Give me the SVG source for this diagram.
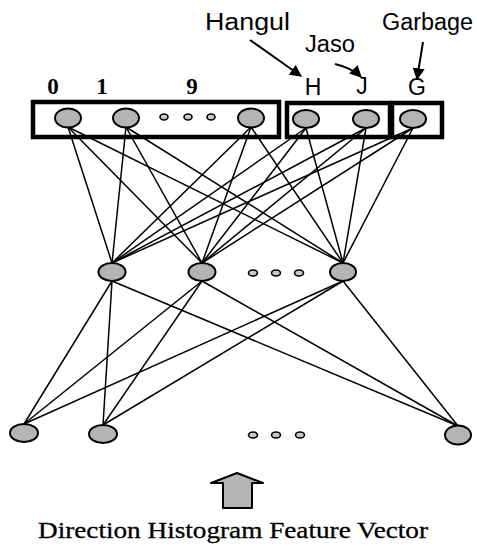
<svg xmlns="http://www.w3.org/2000/svg" width="477" height="546" viewBox="0 0 477 546">
<defs>
<style>
.ln{stroke:#000;stroke-width:1.5;fill:none}
.nd{fill:#b4b4b4;stroke:#000;stroke-width:2}
.dot{fill:#c8c8c8;stroke:#000;stroke-width:1.6}
.box{fill:none;stroke:#000;stroke-width:4.5}
.lab{font-family:"Liberation Sans",Arial,sans-serif;font-size:23px;fill:#000}
.dig{font-family:"Liberation Serif","Times New Roman",serif;font-size:23px;font-weight:bold;fill:#000;text-anchor:middle}
.cap{font-family:"Liberation Serif","Times New Roman",serif;font-size:24px;fill:#000;stroke:#000;stroke-width:0.3}
.ar{stroke:#000;stroke-width:2;fill:none}
</style>
<marker id="ah" viewBox="0 0 10 10" refX="9" refY="5" markerWidth="6" markerHeight="6" orient="auto" markerUnits="strokeWidth">
<path d="M0,0 L10,5 L0,10 z" fill="#000"/>
</marker>
</defs>
<rect width="477" height="546" fill="#fff"/>
<g id="connectors">
<line class="ln" x1="68" y1="127" x2="112" y2="263"/>
<line class="ln" x1="68" y1="127" x2="202" y2="263"/>
<line class="ln" x1="68" y1="127" x2="343" y2="263"/>
<line class="ln" x1="126" y1="127" x2="112" y2="263"/>
<line class="ln" x1="126" y1="127" x2="202" y2="263"/>
<line class="ln" x1="126" y1="127" x2="343" y2="263"/>
<line class="ln" x1="251" y1="127" x2="112" y2="263"/>
<line class="ln" x1="251" y1="127" x2="202" y2="263"/>
<line class="ln" x1="251" y1="127" x2="343" y2="263"/>
<line class="ln" x1="306" y1="128" x2="112" y2="263"/>
<line class="ln" x1="306" y1="128" x2="202" y2="263"/>
<line class="ln" x1="306" y1="128" x2="343" y2="263"/>
<line class="ln" x1="366" y1="128" x2="112" y2="263"/>
<line class="ln" x1="366" y1="128" x2="202" y2="263"/>
<line class="ln" x1="366" y1="128" x2="343" y2="263"/>
<line class="ln" x1="413" y1="128" x2="112" y2="263"/>
<line class="ln" x1="413" y1="128" x2="202" y2="263"/>
<line class="ln" x1="413" y1="128" x2="343" y2="263"/>
<line class="ln" x1="112" y1="281" x2="24" y2="424"/>
<line class="ln" x1="112" y1="281" x2="103" y2="425"/>
<line class="ln" x1="112" y1="281" x2="458" y2="426"/>
<line class="ln" x1="202" y1="281" x2="24" y2="424"/>
<line class="ln" x1="202" y1="281" x2="103" y2="425"/>
<line class="ln" x1="202" y1="281" x2="458" y2="426"/>
<line class="ln" x1="343" y1="281" x2="24" y2="424"/>
<line class="ln" x1="343" y1="281" x2="103" y2="425"/>
<line class="ln" x1="343" y1="281" x2="458" y2="426"/>
<line class="ar" x1="250" y1="40" x2="301" y2="76" marker-end="url(#ah)"/>
<path class="ar" d="M335,64 Q352,68 361,77" marker-end="url(#ah)"/>
<line class="ar" x1="423" y1="42" x2="417" y2="79" marker-end="url(#ah)"/>
</g>
<g id="group-digits"><rect class="box" x="33" y="102" width="246" height="35"/></g>
<g id="group-hangul"><rect class="box" x="287" y="103" width="103" height="34"/></g>
<g id="group-garbage"><rect class="box" x="392" y="103" width="50" height="34"/></g>
<g id="out-0"><ellipse class="nd" cx="68" cy="118" rx="13" ry="9.5"/><text class="dig" x="53" y="94">0</text></g>
<g id="out-1"><ellipse class="nd" cx="126" cy="118" rx="13" ry="9.5"/><text class="dig" x="102" y="94">1</text></g>
<g id="out-dots"><ellipse class="dot" cx="164" cy="117" rx="4" ry="3"/><ellipse class="dot" cx="188" cy="117" rx="4" ry="3"/><ellipse class="dot" cx="211" cy="117" rx="4" ry="3"/></g>
<g id="out-9"><ellipse class="nd" cx="251" cy="118" rx="13" ry="9.5"/><text class="dig" x="192" y="94">9</text></g>
<g id="out-H"><ellipse class="nd" cx="306" cy="119" rx="13" ry="9"/><text class="lab" x="313" y="95" text-anchor="middle">H</text></g>
<g id="out-J"><ellipse class="nd" cx="366" cy="119" rx="13" ry="9"/><text class="lab" x="362" y="94" text-anchor="middle">J</text></g>
<g id="out-G"><ellipse class="nd" cx="413" cy="119" rx="13" ry="9"/><text class="lab" x="417" y="95" text-anchor="middle">G</text></g>
<g id="label-hangul"><text class="lab" x="205" y="30" textLength="85" lengthAdjust="spacingAndGlyphs">Hangul</text></g>
<g id="label-jaso"><text class="lab" x="305" y="52" textLength="50" lengthAdjust="spacingAndGlyphs">Jaso</text></g>
<g id="label-garbage"><text class="lab" x="382" y="30" textLength="91" lengthAdjust="spacingAndGlyphs">Garbage</text></g>
<g id="hid-1"><ellipse class="nd" cx="112" cy="272" rx="13.5" ry="9"/></g>
<g id="hid-2"><ellipse class="nd" cx="202" cy="272" rx="13.5" ry="9"/></g>
<g id="hid-dots"><ellipse class="dot" cx="253" cy="273" rx="4.5" ry="3"/><ellipse class="dot" cx="276" cy="273" rx="4.5" ry="3"/><ellipse class="dot" cx="299" cy="273" rx="4.5" ry="3"/></g>
<g id="hid-3"><ellipse class="nd" cx="343" cy="272" rx="13" ry="9"/></g>
<g id="in-1"><ellipse class="nd" cx="24" cy="433" rx="14" ry="9"/></g>
<g id="in-2"><ellipse class="nd" cx="103" cy="434" rx="14" ry="9"/></g>
<g id="in-dots"><ellipse class="dot" cx="253" cy="435" rx="4.5" ry="3"/><ellipse class="dot" cx="276" cy="435" rx="4.5" ry="3"/><ellipse class="dot" cx="300" cy="435" rx="4.5" ry="3"/></g>
<g id="in-3"><ellipse class="nd" cx="458" cy="435" rx="13" ry="9.5"/></g>
<g id="input-arrow"><path d="M223,508 L223,483 L211,483 L237,473 L263,483 L252,483 L252,508 Z" fill="#b4b4b4" stroke="#000" stroke-width="2" stroke-linejoin="round"/></g>
<g id="caption"><text class="cap" x="38" y="538" textLength="390" lengthAdjust="spacingAndGlyphs">Direction Histogram Feature Vector</text></g>
</svg>
